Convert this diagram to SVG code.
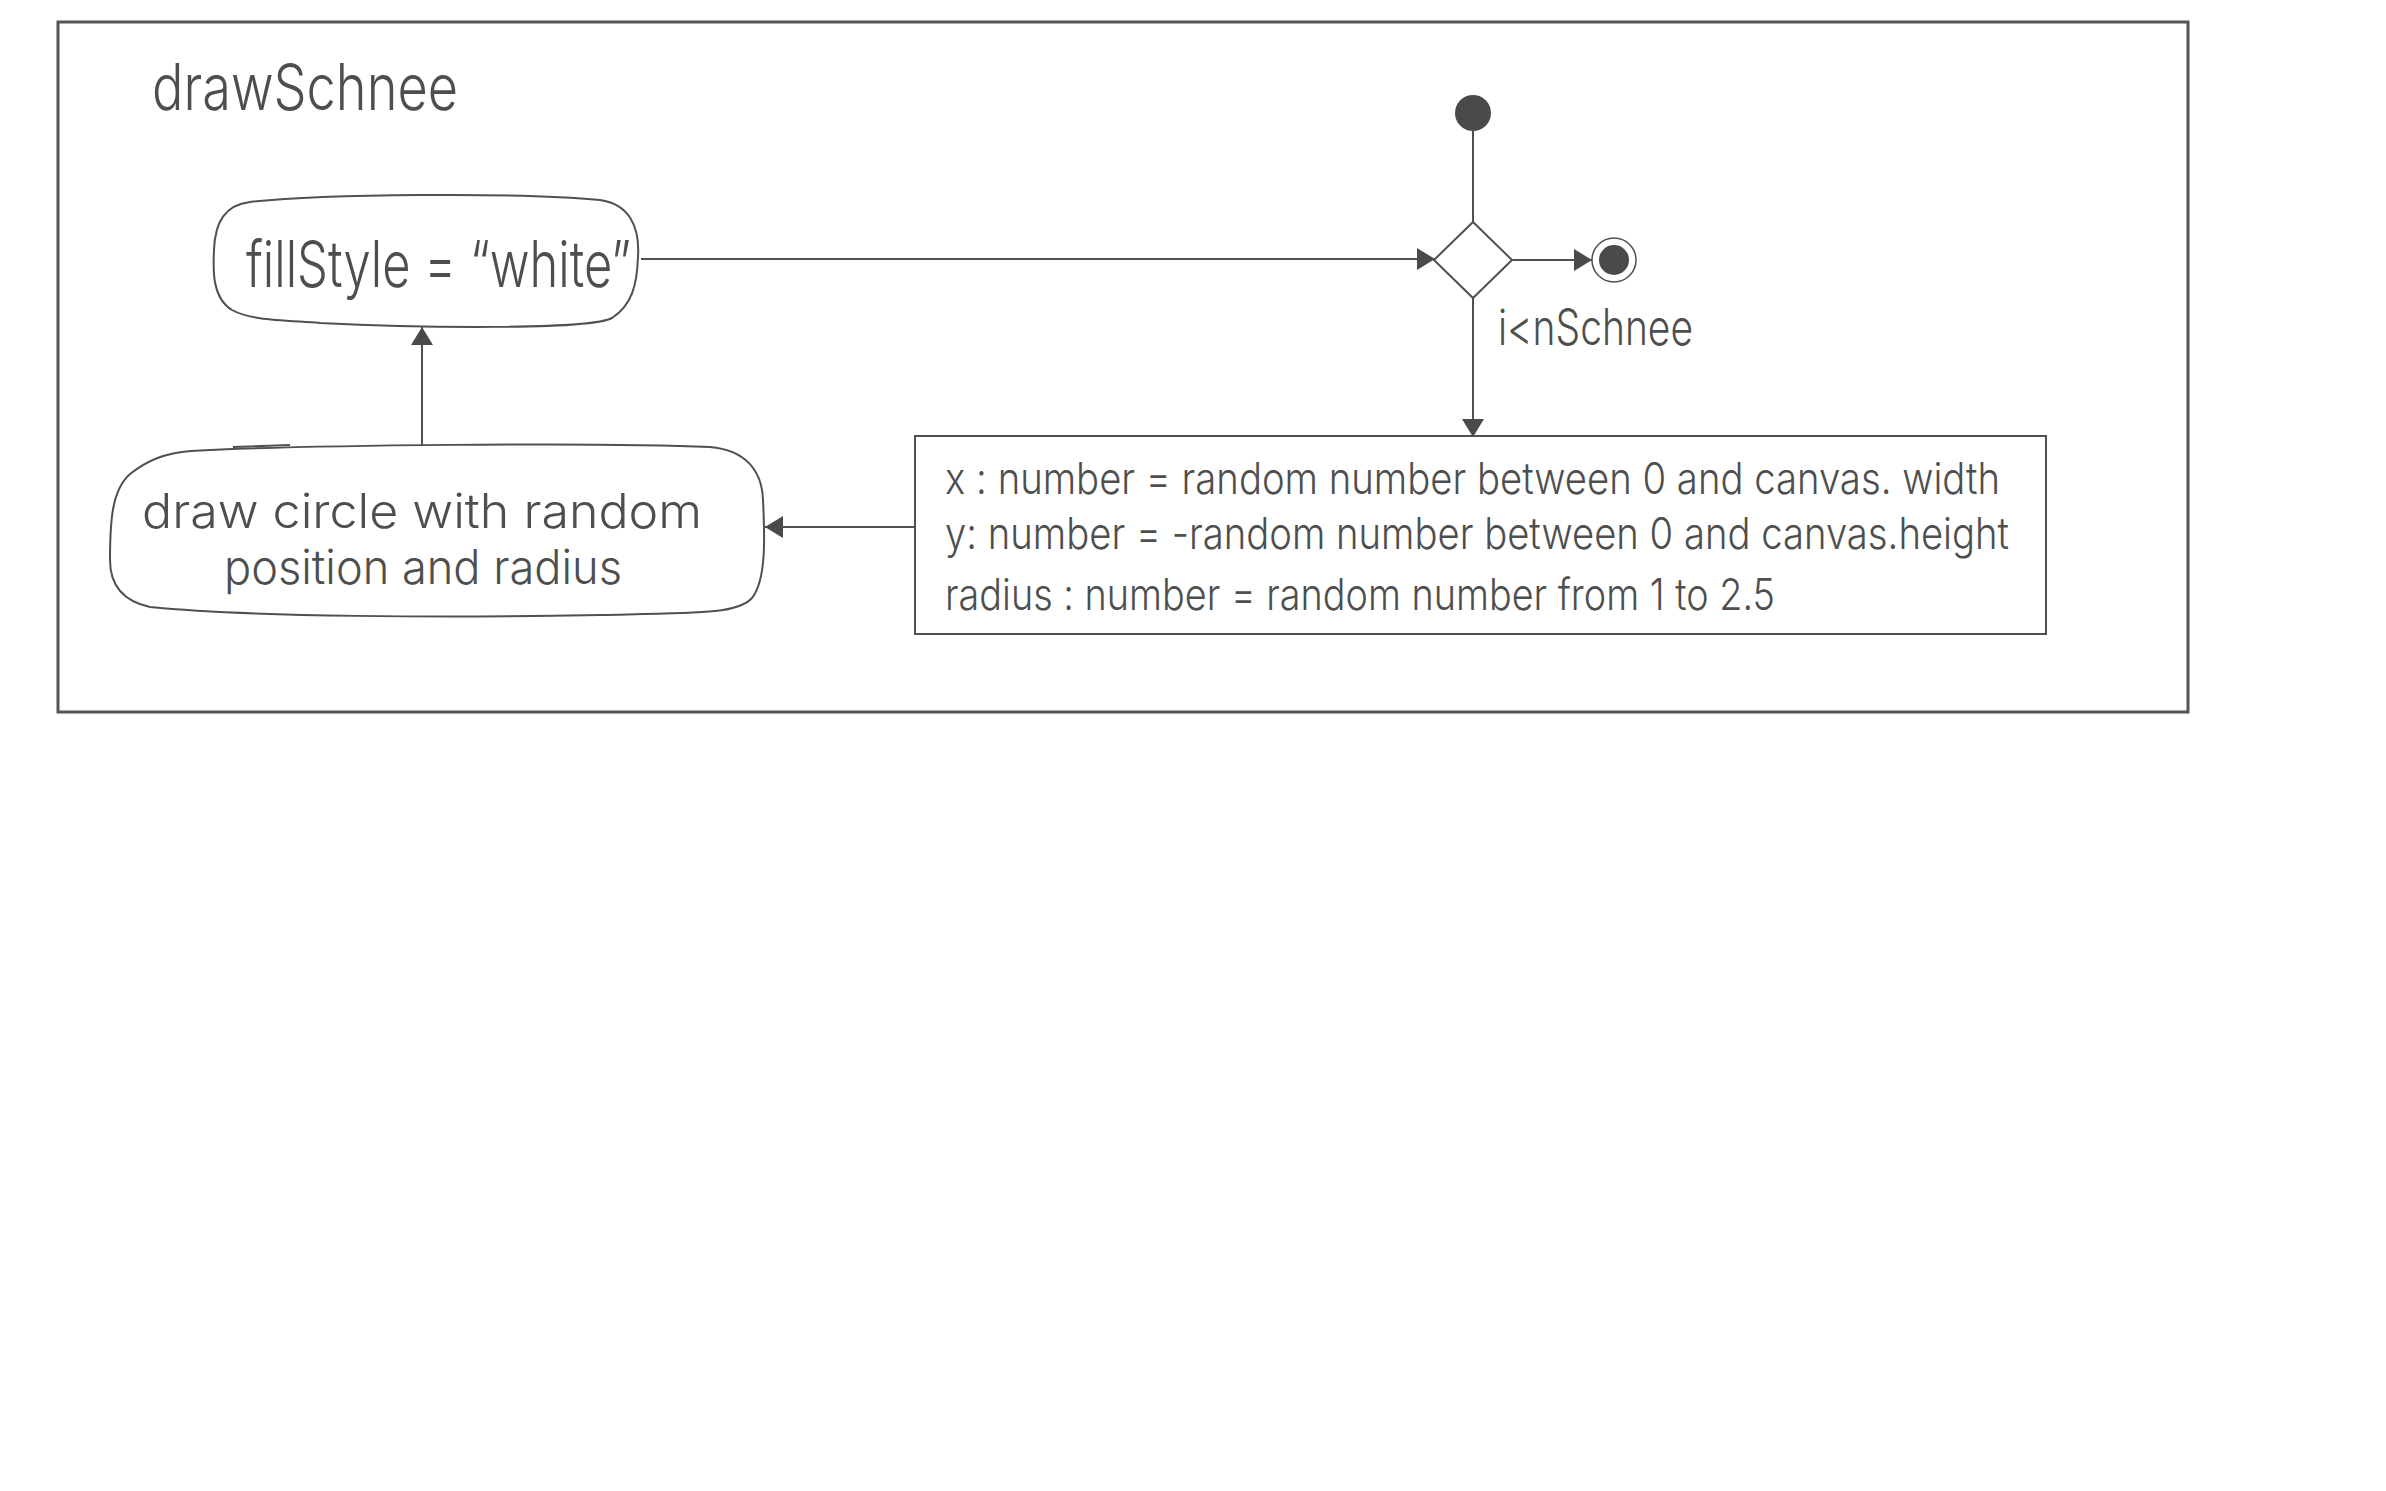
<svg xmlns="http://www.w3.org/2000/svg" width="2386" height="1491" viewBox="0 0 2386 1491">
<style>
.ln{fill:none;stroke:#505050;stroke-width:2}
.sh{fill:#fff;stroke:#505050;stroke-width:2}
.tx{font-family:Inter,"Liberation Sans",sans-serif;font-weight:300;fill:#4e4e4e}
.dot{fill:#4a4a4a}
</style>
<defs>
<marker id="arr" viewBox="0 0 18 22" refX="18" refY="11" markerWidth="18" markerHeight="22" markerUnits="userSpaceOnUse" orient="auto">
<path d="M0 0 L18 11 L0 22 Z" fill="#4a4a4a"/>
</marker>
</defs>
<rect width="2386" height="1491" fill="#fff"/>
<g id="frame">
<rect x="58" y="22" width="2130" height="690" fill="none" stroke="#555" stroke-width="3"/>
<text class="tx" x="152" y="110" font-size="64" textLength="306" lengthAdjust="spacingAndGlyphs">drawSchnee</text>
</g>
<g id="connectors">
<line class="ln" x1="641" y1="259" x2="1435" y2="259" marker-end="url(#arr)"/>
<line class="ln" x1="1473" y1="130" x2="1473" y2="222"/>
<line class="ln" x1="1512" y1="260" x2="1592" y2="260" marker-end="url(#arr)"/>
<line class="ln" x1="1473" y1="298" x2="1473" y2="437" marker-end="url(#arr)"/>
<line class="ln" x1="915" y1="527" x2="765" y2="527" marker-end="url(#arr)"/>
<line class="ln" x1="422" y1="445" x2="422" y2="327" marker-end="url(#arr)"/>
</g>
<g id="start">
<circle class="dot" cx="1473" cy="113" r="18"/>
</g>
<g id="decision">
<path class="sh" d="M1473 222 L1512 260 L1473 298 L1434 260 Z"/>
<text class="tx" x="1498" y="345" font-size="50" textLength="195" lengthAdjust="spacingAndGlyphs">i&lt;nSchnee</text>
</g>
<g id="end">
<circle cx="1614" cy="260" r="22" fill="#fff" stroke="#505050" stroke-width="1.5"/>
<circle class="dot" cx="1614" cy="260" r="15"/>
</g>
<g id="fillStyle">
<path class="sh" d="M250 202 C320 194,520 192,600 200 C628 204,640 225,638 257 C637 285,632 305,612 318 C590 330,420 328,320 323 C280 320,250 320,232 310 C212 298,213 270,214 250 C215 222,225 205,250 202 Z"/>
<text class="tx" x="246" y="287" font-size="64" textLength="385" lengthAdjust="spacingAndGlyphs">fillStyle = “white”</text>
</g>
<g id="drawCircle">
<path class="sh" d="M191 451 C300 445,600 442,710 447 C745 450,762 470,763 500 C765 540,766 580,752 598 C738 614,700 613,600 615 C450 618,250 617,150 607 C118 600,110 580,110 560 C110 520,112 490,130 474 C148 460,165 453,191 451 Z"/>
<path class="ln" d="M233 447 L290 445"/>
<text class="tx" x="142" y="528" font-size="48" textLength="560" lengthAdjust="spacingAndGlyphs">draw circle with random</text>
<text class="tx" x="224" y="584" font-size="48" textLength="398" lengthAdjust="spacingAndGlyphs">position and radius</text>
</g>
<g id="assign">
<rect class="sh" x="915" y="436" width="1131" height="198"/>
<text class="tx" x="945" y="494" font-size="44" textLength="1055" lengthAdjust="spacingAndGlyphs">x : number = random number between 0 and canvas. width</text>
<text class="tx" x="945" y="549" font-size="44" textLength="1064" lengthAdjust="spacingAndGlyphs">y: number = -random  number between 0 and canvas.height</text>
<text class="tx" x="945" y="610" font-size="44" textLength="830" lengthAdjust="spacingAndGlyphs">radius : number = random number from 1 to 2.5</text>
</g>
</svg>
